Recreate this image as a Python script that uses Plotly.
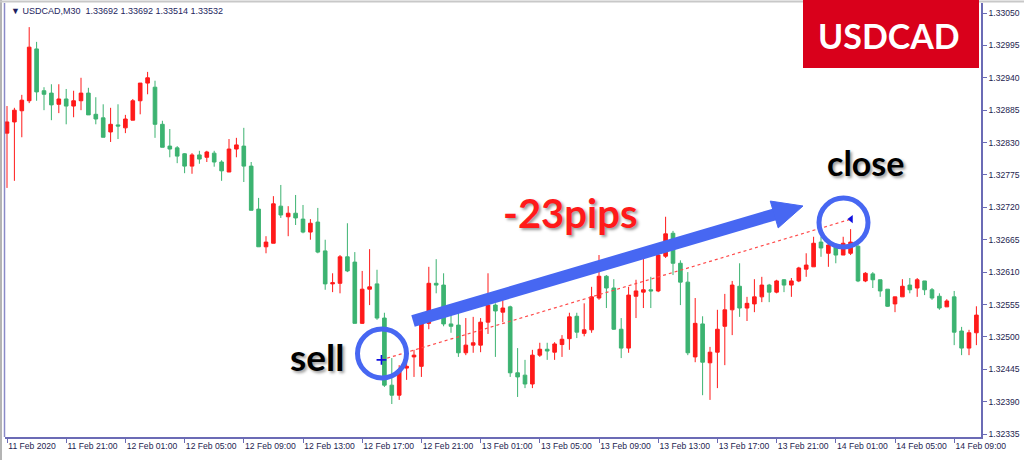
import plotly.graph_objects as go

# ---------------- data (USDCAD, M30, bars from 11 Feb 2020 17:00) ----------------
bar_index = list(range(132))

open_prices = [
    1.32846, 1.32865, 1.32884, 1.32901, 1.32989, 1.32918, 1.32914, 1.32895, 1.32904, 1.32892,
    1.32901, 1.32914, 1.32878, 1.32872, 1.32848, 1.32860, 1.32855, 1.32868, 1.32901, 1.32931,
    1.32924, 1.32861, 1.32824, 1.32821, 1.32811, 1.32790, 1.32809, 1.32805, 1.32812, 1.32797,
    1.32780, 1.32819, 1.32824, 1.32790, 1.32717, 1.32653, 1.32659, 1.32722, 1.32704, 1.32710,
    1.32700, 1.32678, 1.32695, 1.32646, 1.32590, 1.32591, 1.32636, 1.32627, 1.32523, 1.32581,
    1.32590, 1.32532, 1.32418, 1.32401, 1.32447, 1.32466, 1.32450, 1.32523, 1.32591, 1.32588,
    1.32522, 1.32520, 1.32473, 1.32486, 1.32486, 1.32525, 1.32554, 1.32542, 1.32551, 1.32439,
    1.32435, 1.32420, 1.32469, 1.32479, 1.32474, 1.32487, 1.32497, 1.32535, 1.32506, 1.32512,
    1.32566, 1.32603, 1.32583, 1.32513, 1.32481, 1.32569, 1.32576, 1.32580, 1.32578, 1.32637,
    1.32676, 1.32625, 1.32593, 1.32466, 1.32522, 1.32456, 1.32474, 1.32518, 1.32546, 1.32586,
    1.32549, 1.32556, 1.32568, 1.32588, 1.32576, 1.32597, 1.32588, 1.32595, 1.32615, 1.32619,
    1.32661, 1.32642, 1.32653, 1.32639, 1.32642, 1.32654, 1.32595, 1.32607, 1.32597, 1.32581,
    1.32556, 1.32568, 1.32588, 1.32583, 1.32595, 1.32580, 1.32569, 1.32551, 1.32568, 1.32510,
    1.32481, 1.32507,
]
high_prices = [
    1.32892, 1.32889, 1.32911, 1.33026, 1.33001, 1.32924, 1.32929, 1.32929, 1.32921, 1.32918,
    1.32940, 1.32923, 1.32907, 1.32895, 1.32889, 1.32895, 1.32877, 1.32904, 1.32931, 1.32950,
    1.32935, 1.32867, 1.32853, 1.32824, 1.32812, 1.32812, 1.32816, 1.32816, 1.32816, 1.32800,
    1.32836, 1.32838, 1.32855, 1.32797, 1.32736, 1.32671, 1.32739, 1.32758, 1.32722, 1.32741,
    1.32724, 1.32700, 1.32719, 1.32665, 1.32608, 1.32639, 1.32693, 1.32644, 1.32612, 1.32649,
    1.32614, 1.32541, 1.32464, 1.32452, 1.32461, 1.32478, 1.32527, 1.32619, 1.32632, 1.32608,
    1.32541, 1.32542, 1.32532, 1.32534, 1.32532, 1.32608, 1.32557, 1.32563, 1.32553, 1.32481,
    1.32461, 1.32478, 1.32490, 1.32490, 1.32491, 1.32503, 1.32541, 1.32541, 1.32557, 1.32585,
    1.32639, 1.32605, 1.32598, 1.32532, 1.32585, 1.32597, 1.32634, 1.32602, 1.32642, 1.32704,
    1.32680, 1.32630, 1.32610, 1.32566, 1.32535, 1.32483, 1.32546, 1.32573, 1.32595, 1.32625,
    1.32568, 1.32598, 1.32602, 1.32590, 1.32597, 1.32598, 1.32600, 1.32619, 1.32642, 1.32670,
    1.32670, 1.32659, 1.32659, 1.32670, 1.32683, 1.32656, 1.32610, 1.32610, 1.32597, 1.32581,
    1.32568, 1.32598, 1.32600, 1.32600, 1.32595, 1.32583, 1.32574, 1.32564, 1.32578, 1.32517,
    1.32512, 1.32552,
]
low_prices = [
    1.32753, 1.32765, 1.32839, 1.32897, 1.32901, 1.32885, 1.32868, 1.32880, 1.32861, 1.32873,
    1.32885, 1.32877, 1.32861, 1.32839, 1.32831, 1.32836, 1.32846, 1.32868, 1.32878, 1.32912,
    1.32838, 1.32822, 1.32805, 1.32795, 1.32778, 1.32777, 1.32794, 1.32797, 1.32789, 1.32765,
    1.32780, 1.32805, 1.32763, 1.32715, 1.32653, 1.32642, 1.32659, 1.32702, 1.32671, 1.32690,
    1.32676, 1.32665, 1.32642, 1.32580, 1.32576, 1.32574, 1.32610, 1.32523, 1.32522, 1.32554,
    1.32529, 1.32415, 1.32386, 1.32393, 1.32427, 1.32432, 1.32432, 1.32513, 1.32574, 1.32518,
    1.32507, 1.32466, 1.32469, 1.32473, 1.32474, 1.32505, 1.32466, 1.32525, 1.32432, 1.32398,
    1.32413, 1.32413, 1.32466, 1.32461, 1.32461, 1.32466, 1.32478, 1.32498, 1.32501, 1.32507,
    1.32563, 1.32549, 1.32512, 1.32464, 1.32473, 1.32532, 1.32549, 1.32549, 1.32576, 1.32634,
    1.32605, 1.32554, 1.32469, 1.32457, 1.32401, 1.32393, 1.32413, 1.32452, 1.32503, 1.32534,
    1.32527, 1.32542, 1.32559, 1.32559, 1.32574, 1.32576, 1.32568, 1.32593, 1.32602, 1.32619,
    1.32636, 1.32619, 1.32625, 1.32639, 1.32639, 1.32593, 1.32593, 1.32583, 1.32568, 1.32551,
    1.32542, 1.32568, 1.32574, 1.32568, 1.32571, 1.32563, 1.32546, 1.32551, 1.32486, 1.32469,
    1.32469, 1.32486,
]
close_prices = [
    1.32865, 1.32885, 1.32902, 1.32992, 1.32916, 1.32912, 1.32894, 1.32904, 1.32892, 1.32901,
    1.32914, 1.32877, 1.32870, 1.32839, 1.32861, 1.32858, 1.32870, 1.32901, 1.32931, 1.32940,
    1.32861, 1.32822, 1.32819, 1.32807, 1.32790, 1.32809, 1.32802, 1.32814, 1.32797, 1.32782,
    1.32819, 1.32826, 1.32790, 1.32715, 1.32653, 1.32661, 1.32726, 1.32707, 1.32710, 1.32702,
    1.32678, 1.32693, 1.32644, 1.32590, 1.32592, 1.32636, 1.32612, 1.32523, 1.32581, 1.32585,
    1.32532, 1.32418, 1.32401, 1.32444, 1.32450, 1.32469, 1.32523, 1.32591, 1.32588, 1.32522,
    1.32518, 1.32473, 1.32486, 1.32490, 1.32525, 1.32554, 1.32544, 1.32549, 1.32439, 1.32432,
    1.32420, 1.32469, 1.32479, 1.32476, 1.32488, 1.32496, 1.32534, 1.32508, 1.32512, 1.32568,
    1.32603, 1.32583, 1.32513, 1.32481, 1.32571, 1.32578, 1.32580, 1.32578, 1.32639, 1.32675,
    1.32625, 1.32593, 1.32473, 1.32523, 1.32457, 1.32474, 1.32513, 1.32546, 1.32588, 1.32549,
    1.32557, 1.32568, 1.32588, 1.32576, 1.32595, 1.32588, 1.32595, 1.32617, 1.32622, 1.32659,
    1.32651, 1.32656, 1.32639, 1.32659, 1.32661, 1.32595, 1.32608, 1.32597, 1.32578, 1.32552,
    1.32568, 1.32586, 1.32580, 1.32597, 1.32580, 1.32566, 1.32549, 1.32561, 1.32508, 1.32481,
    1.32507, 1.32537,
]

x_tick_bars = [0, 8, 16, 24, 32, 40, 48, 56, 64, 72, 80, 88, 96, 104, 112, 120, 128]
x_tick_labels = [
    "11 Feb 2020", "11 Feb 21:00", "12 Feb 01:00", "12 Feb 05:00", "12 Feb 09:00",
    "12 Feb 13:00", "12 Feb 17:00", "12 Feb 21:00", "13 Feb 01:00", "13 Feb 05:00",
    "13 Feb 09:00", "13 Feb 13:00", "13 Feb 17:00", "13 Feb 21:00", "14 Feb 01:00",
    "14 Feb 05:00", "14 Feb 09:00",
]
y_tick_labels = [
    "1.32335", "1.32390", "1.32445", "1.32500", "1.32555", "1.32610", "1.32665",
    "1.32720", "1.32775", "1.32830", "1.32885", "1.32940", "1.32995", "1.33050",
]

# trade: sell entry and close (bar position, price)
trade_bars = [50.6, 114.05]
trade_prices = [1.32461, 1.32700]

header_text = "▼ USDCAD,M30  1.33692 1.33692 1.33514 1.33532"

# ---------------- layout geometry ----------------
W, H = 1024, 460
ML, MR, MT, MB = 5, 43, 3, 23
PW, PH = W - ML - MR, H - MT - MB


def px(xp):
    return (xp - ML) / PW


def py(yp):
    return (H - MB - yp) / PH


AX_FONT = dict(family="Liberation Sans, Arial, sans-serif", size=8.6, color="#1e1e50")
AX_LINE = "#6b6bb5"
BLUE = "#4767F2"
BIG = "Lato, Open Sans, sans-serif"
SHADOW = "2px 2px 3px rgba(0,0,0,0.40)"

fig = go.Figure()

fig.add_trace(go.Candlestick(
    x=bar_index, open=open_prices, high=high_prices, low=low_prices, close=close_prices,
    increasing=dict(line=dict(color="#FF1A1A", width=1), fillcolor="#FF1A1A"),
    decreasing=dict(line=dict(color="#3CB371", width=1), fillcolor="#3CB371"),
    whiskerwidth=0, hoverinfo="skip", showlegend=False,
))

# trade line (red dotted) with entry/exit markers
fig.add_trace(go.Scatter(
    x=trade_bars, y=trade_prices, mode="lines",
    line=dict(color="#FF4A4A", width=1.2, dash="dot"),
    hoverinfo="skip", showlegend=False,
))
fig.add_trace(go.Scatter(
    x=trade_bars[:1], y=trade_prices[:1], mode="markers",
    marker=dict(symbol="cross-thin", size=7, line=dict(color="#1010E0", width=1.6)),
    hoverinfo="skip", showlegend=False,
))
fig.add_trace(go.Scatter(
    x=trade_bars[1:], y=trade_prices[1:], mode="markers",
    marker=dict(symbol="triangle-left", size=7, color="#1010E0"),
    hoverinfo="skip", showlegend=False,
))

x_lo = -2 / 7.4
x_hi = (PW - 2) / 7.4
y_top = 1.33067
y_bot = 1.32330

shapes = []
# frame lines at the left and top
shapes.append(dict(type="line", xref="paper", yref="paper", x0=px(1), x1=px(1), y0=py(0), y1=py(460),
                   line=dict(color="#b4b4b4", width=2)))
shapes.append(dict(type="line", xref="paper", yref="paper", x0=px(4.5), x1=px(4.5), y0=py(3), y1=py(437),
                   line=dict(color="#8a8ac8", width=1.5)))
shapes.append(dict(type="line", xref="paper", yref="paper", x0=px(0), x1=px(1024), y0=py(1.5), y1=py(1.5),
                   line=dict(color="#c8c8c8", width=2)))

# red title box
shapes.append(dict(type="rect", xref="paper", yref="paper", x0=px(803), x1=px(979), y0=py(68), y1=py(0),
                   fillcolor="#D9001B", line=dict(width=0)))

# blue circles around entry / exit
for cx, cy in [(382, 353.5), (843.5, 222.5)]:
    r = 24.5
    shapes.append(dict(type="circle", xref="paper", yref="paper",
                       x0=px(cx - r), x1=px(cx + r), y0=py(cy + r), y1=py(cy - r),
                       line=dict(color=BLUE, width=5)))

# blue arrow
sx, sy = 413, 321
tx, ty = 803, 206
dx, dy = tx - sx, ty - sy
ln = (dx * dx + dy * dy) ** 0.5
ux, uy = dx / ln, dy / ln
nx, ny = -uy, ux
hl, hw = 30, 14
bx, by = tx - hl * ux, ty - hl * uy
shapes.append(dict(type="line", xref="paper", yref="paper",
                   x0=px(sx), y0=py(sy), x1=px(bx + 2 * ux), y1=py(by + 2 * uy),
                   line=dict(color=BLUE, width=12)))
c1 = (bx + hw * nx, by + hw * ny)
c2 = (bx - hw * nx, by - hw * ny)
path = "M {:.5f} {:.5f} L {:.5f} {:.5f} L {:.5f} {:.5f} Z".format(
    px(tx), py(ty), px(c1[0]), py(c1[1]), px(c2[0]), py(c2[1]))
shapes.append(dict(type="path", xref="paper", yref="paper", path=path,
                   fillcolor=BLUE, line=dict(color=BLUE, width=1)))

annotations = [
    dict(xref="paper", yref="paper", x=px(9), y=py(11), xanchor="left", yanchor="middle",
         text=header_text, showarrow=False,
         font=dict(family="Liberation Sans, Arial, sans-serif", size=9, color="#1e1e60")),
    dict(xref="paper", yref="paper", x=px(889), y=py(36), xanchor="center", yanchor="middle",
         text="<b>USDCAD</b>", showarrow=False,
         font=dict(family=BIG, size=34, color="#FFFFFF")),
    dict(xref="paper", yref="paper", x=px(570), y=py(213), xanchor="center", yanchor="middle",
         text="<b>-23pips</b>", showarrow=False,
         font=dict(family=BIG, size=40, color="#FF1A1A", shadow=SHADOW)),
    dict(xref="paper", yref="paper", x=px(865), y=py(162), xanchor="center", yanchor="middle",
         text="<b>close</b>", showarrow=False,
         font=dict(family=BIG, size=34, color="#000000", shadow=SHADOW)),
    dict(xref="paper", yref="paper", x=px(317), y=py(356), xanchor="center", yanchor="middle",
         text="<b>sell</b>", showarrow=False,
         font=dict(family=BIG, size=37, color="#000000", shadow=SHADOW)),
]

fig.update_layout(
    width=W, height=H, autosize=False,
    margin=dict(l=ML, r=MR, t=MT, b=MB, pad=0),
    paper_bgcolor="#FFFFFF", plot_bgcolor="#FFFFFF",
    showlegend=False,
    shapes=shapes, annotations=annotations,
    xaxis=dict(
        range=[x_lo, x_hi], tickmode="array", tickvals=x_tick_bars, ticktext=x_tick_labels,
        ticks="outside", ticklen=4, tickwidth=1, tickcolor=AX_LINE, tickangle=0,
        ticklabelposition="outside right", tickfont=AX_FONT,
        showline=True, linecolor=AX_LINE, linewidth=1.5, showgrid=False, zeroline=False,
        rangeslider=dict(visible=False), fixedrange=True, automargin=False,
    ),
    yaxis=dict(
        range=[y_bot, y_top], side="right", tickmode="array",
        tickvals=[float(t) for t in y_tick_labels], ticktext=y_tick_labels,
        ticks="outside", ticklen=4, tickwidth=1, tickcolor=AX_LINE, tickfont=AX_FONT,
        showline=True, linecolor=AX_LINE, linewidth=1.5, showgrid=False, zeroline=False,
        fixedrange=True, automargin=False,
    ),
)

fig.write_html("out.html", config={"displayModeBar": False},
               post_script="document.body.style.margin='0px';document.body.style.overflow='hidden';")
